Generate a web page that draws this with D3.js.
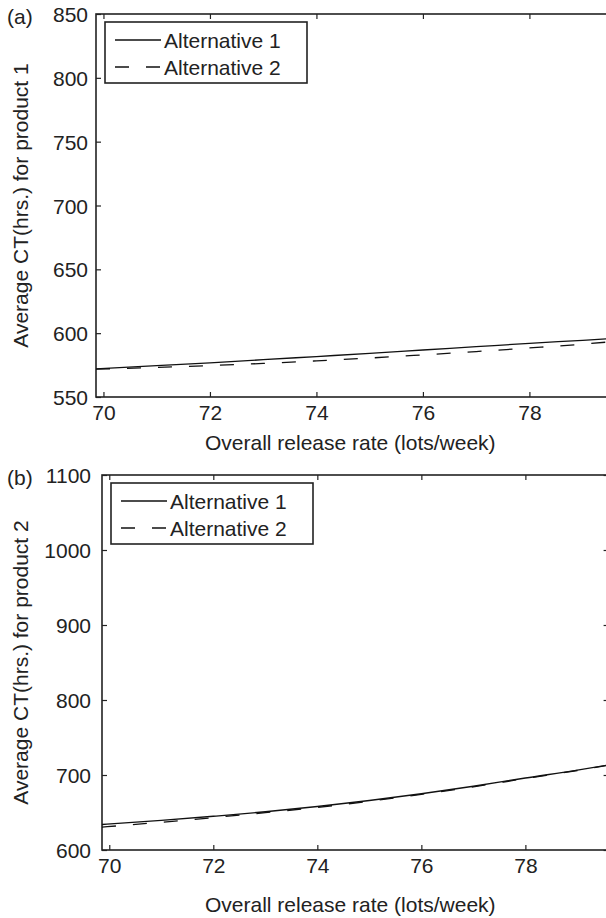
<!DOCTYPE html>
<html>
<head>
<meta charset="utf-8">
<script src="https://cdn.jsdelivr.net/npm/d3@7/dist/d3.min.js"></script>
<style>
  html, body { margin: 0; padding: 0; background: #fff; }
  svg { display: block; }
  text { font-family: "Liberation Sans", Arial, Helvetica, sans-serif; fill: #222; }
</style>
</head>
<body>
<div id="chart"></div>
<script>
// ---- data ----
const releaseRate = [69.86, 71, 72, 73, 74, 75, 76, 77, 78, 79, 79.6];
const p1Alt1 = [572.0, 574.5, 576.8, 579.2, 581.7, 584.2, 586.8, 589.4, 592.0, 594.4, 595.9];
const p1Alt2 = [571.8, 573.2, 574.6, 576.3, 578.3, 580.5, 583.0, 585.6, 588.4, 591.4, 593.5];
const p2Alt1 = [634.0, 639.5, 645.0, 651.0, 658.0, 666.0, 675.0, 685.0, 696.0, 706.5, 713.5];
const p2Alt2 = [630.5, 637.0, 643.2, 649.8, 656.8, 665.0, 674.2, 684.3, 695.3, 706.0, 713.0];
const xTicks = [70, 72, 74, 76, 78];
const yTicks1 = [550, 600, 650, 700, 750, 800, 850];
const yTicks2 = [600, 700, 800, 900, 1000, 1100];
const seriesNames = ["Alternative 1", "Alternative 2"];
const xTitle = "Overall release rate (lots/week)";
const yTitles = ["Average CT(hrs.) for product 1", "Average CT(hrs.) for product 2"];
const panelTags = ["(a)", "(b)"];

const W = 606, H = 918;
const svg = d3.select("#chart").append("svg").attr("width", W).attr("height", H);

const FS = 21;
const AX = "#222";

function panel(cfg) {
  const g = svg.append("g");
  const x = d3.scaleLinear().domain([69.86, 79.6]).range([cfg.left, cfg.right]);
  const y = d3.scaleLinear().domain(cfg.yDomain).range([cfg.bottom, cfg.top]);

  // box
  g.append("rect").attr("x", cfg.left).attr("y", cfg.top)
    .attr("width", cfg.right - cfg.left).attr("height", cfg.bottom - cfg.top)
    .attr("fill", "none").attr("stroke", AX).attr("stroke-width", 1.6);

  const tl = 5;
  const xb = g.append("g").attr("transform", `translate(0,${cfg.bottom})`)
    .call(d3.axisBottom(x).tickValues(xTicks).tickSize(-tl).tickPadding(8).tickFormat(d3.format("d")));
  const xt = g.append("g").attr("transform", `translate(0,${cfg.top})`)
    .call(d3.axisTop(x).tickValues(xTicks).tickSize(-tl).tickFormat(""));
  const yl = g.append("g").attr("transform", `translate(${cfg.left},0)`)
    .call(d3.axisLeft(y).tickValues(cfg.yTicks).tickSize(-tl).tickPadding(cfg.ypad).tickFormat(d3.format("d")));
  const yr = g.append("g").attr("transform", `translate(${cfg.right},0)`)
    .call(d3.axisRight(y).tickValues(cfg.yTicks).tickSize(-tl).tickFormat(""));
  [xb, xt, yl, yr].forEach(a => {
    a.select(".domain").remove();
    a.selectAll(".tick line").attr("stroke", AX).attr("stroke-width", 1.2);
    a.selectAll(".tick text").attr("font-size", FS).attr("fill", AX)
      .style("font-family", '"Liberation Sans", Arial, sans-serif');
  });
  yl.selectAll(".tick text").attr("dy", "0.36em");

  // lines
  const line = vals => d3.line().x((d, i) => x(releaseRate[i])).y(d => y(d)).curve(d3.curveMonotoneX)(vals);
  const clipId = "clip" + cfg.idx;
  g.append("clipPath").attr("id", clipId).append("rect")
    .attr("x", cfg.left).attr("y", cfg.top).attr("width", cfg.right - cfg.left).attr("height", cfg.bottom - cfg.top);
  const lg = g.append("g").attr("clip-path", `url(#${clipId})`);
  lg.append("path").attr("d", line(cfg.s2)).attr("fill", "none").attr("stroke", "#111")
    .attr("stroke-width", 1.3).attr("stroke-dasharray", "14,17");
  lg.append("path").attr("d", line(cfg.s1)).attr("fill", "none").attr("stroke", "#111")
    .attr("stroke-width", 1.3);

  // legend
  const L = cfg.legend;
  g.append("rect").attr("x", L.x).attr("y", L.y).attr("width", L.w).attr("height", L.h)
    .attr("fill", "#fff").attr("stroke", AX).attr("stroke-width", 1.6);
  seriesNames.forEach((name, i) => {
    const cy = L.y + 18 + i * 27;
    g.append("line").attr("x1", L.x + 10).attr("x2", L.x + 56).attr("y1", cy).attr("y2", cy)
      .attr("stroke", "#111").attr("stroke-width", 1.3)
      .attr("stroke-dasharray", i === 1 ? "14,17" : null);
    g.append("text").attr("x", L.x + 59).attr("y", cy).attr("dy", "0.36em")
      .attr("font-size", FS).text(name);
  });

  // titles
  g.append("text").attr("x", (cfg.left + cfg.right) / 2 - 5).attr("y", cfg.xTitleY)
    .attr("text-anchor", "middle").attr("font-size", FS).text(xTitle);
  g.append("text").attr("transform", `translate(${cfg.yTitleX},${(cfg.top + cfg.bottom) / 2}) rotate(-90)`)
    .attr("text-anchor", "middle").attr("font-size", FS).text(cfg.yTitle);
  g.append("text").attr("x", 7).attr("y", cfg.top + 2).attr("dy", "0.36em")
    .attr("font-size", FS).text(cfg.tag);
}

panel({ idx: 0, left: 96, right: 614.6, top: 14, bottom: 397, yDomain: [550, 850], yTicks: yTicks1,
  ypad: 8, s1: p1Alt1, s2: p1Alt2, yTitle: yTitles[0], tag: panelTags[0],
  xTitleY: 450, yTitleX: 28, legend: { x: 105, y: 22, w: 202, h: 61 } });
panel({ idx: 1, left: 102, right: 608.6, top: 475, bottom: 850, yDomain: [600, 1100], yTicks: yTicks2,
  ypad: 11, s1: p2Alt1, s2: p2Alt2, yTitle: yTitles[1], tag: panelTags[1],
  xTitleY: 912, yTitleX: 28, legend: { x: 111, y: 483, w: 202, h: 61 } });
</script>
</body>
</html>
